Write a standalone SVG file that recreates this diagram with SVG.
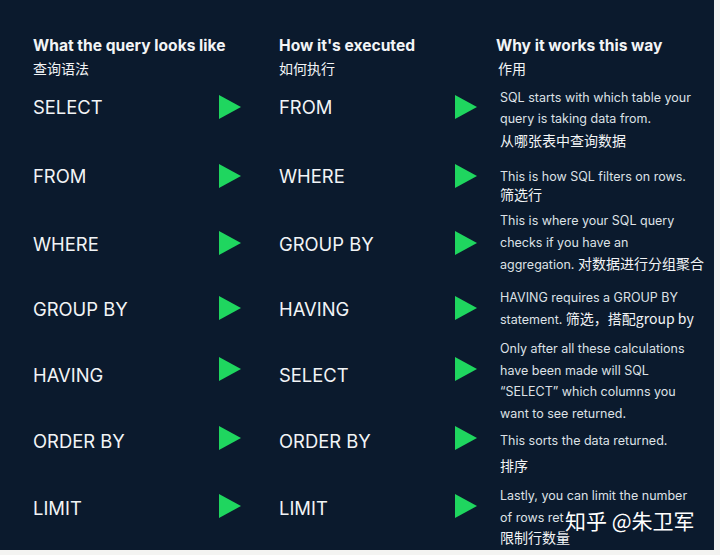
<svg xmlns="http://www.w3.org/2000/svg" width="720" height="555" viewBox="0 0 720 555">
<style>
.bg{fill:#0b1a2d}
.h{font-family:"Inter","Liberation Sans",sans-serif;font-weight:700;font-size:15.6px;fill:#f2f4f6}
.hc{font-family:"Noto Sans CJK SC",sans-serif;font-size:14px;fill:#f2f4f6}
.k{font-family:"Inter","Liberation Sans",sans-serif;font-size:18.4px;fill:#f2f4f6}
.d{font-family:"Inter","Liberation Sans",sans-serif;font-size:12.5px;fill:#dde1e6}
.dc{font-family:"Noto Sans CJK SC",sans-serif;font-size:14px;fill:#f2f4f6}
.arr{fill:#1fd65f}
.wm{font-family:"Noto Sans CJK SC",sans-serif;font-size:21px;fill:#ffffff;stroke:#0b1a2d;stroke-width:3;paint-order:stroke}
</style>
<defs>
<polygon id="tri" points="0,-12 22,0 0,12"/>
</defs>
<rect width="720" height="555" fill="#f4f4f2"/>
<rect class="bg" x="0" y="0" width="714" height="550"/>

<g id="headers">
<text class="h" x="33" y="51">What the query looks like</text>
<text class="hc" x="33" y="74">查询语法</text>
<text class="h" x="279" y="51">How it's executed</text>
<text class="hc" x="279" y="74">如何执行</text>
<text class="h" x="496" y="51">Why it works this way</text>
<text class="hc" x="498" y="74">作用</text>
</g>

<g id="col1">
<text class="k" x="33" y="114">SELECT</text>
<text class="k" x="33" y="183">FROM</text>
<text class="k" x="33" y="251">WHERE</text>
<text class="k" x="33" y="316">GROUP BY</text>
<text class="k" x="33" y="382">HAVING</text>
<text class="k" x="33" y="448">ORDER BY</text>
<text class="k" x="33" y="515">LIMIT</text>
</g>

<g id="col2">
<text class="k" x="279" y="114">FROM</text>
<text class="k" x="279" y="183">WHERE</text>
<text class="k" x="279" y="251">GROUP BY</text>
<text class="k" x="279" y="316">HAVING</text>
<text class="k" x="279" y="382">SELECT</text>
<text class="k" x="279" y="448">ORDER BY</text>
<text class="k" x="279" y="515">LIMIT</text>
</g>

<g id="connectors" class="arr">
<use href="#tri" x="219" y="107"/>
<use href="#tri" x="219" y="176"/>
<use href="#tri" x="219" y="243"/>
<use href="#tri" x="219" y="308"/>
<use href="#tri" x="219" y="369"/>
<use href="#tri" x="219" y="438"/>
<use href="#tri" x="219" y="506"/>
<use href="#tri" x="455" y="107"/>
<use href="#tri" x="455" y="176"/>
<use href="#tri" x="455" y="243"/>
<use href="#tri" x="455" y="308"/>
<use href="#tri" x="455" y="369"/>
<use href="#tri" x="455" y="438"/>
<use href="#tri" x="455" y="506"/>
</g>

<g id="col3">
<text class="d" x="500" y="102">SQL starts with which table your</text>
<text class="d" x="500" y="123">query is taking data from.</text>
<text class="dc" x="500" y="146">从哪张表中查询数据</text>
<text class="d" x="500" y="181">This is how SQL filters on rows.</text>
<text class="dc" x="500" y="200">筛选行</text>
<text class="d" x="500" y="225">This is where your SQL query</text>
<text class="d" x="500" y="247">checks if you have an</text>
<text class="d" x="500" y="269">aggregation. <tspan class="dc">对数据进行分组聚合</tspan></text>
<text class="d" x="500" y="302">HAVING requires a GROUP BY</text>
<text class="d" x="500" y="324">statement. <tspan class="dc" font-size="15">筛选，搭配group by</tspan></text>
<text class="d" x="500" y="353">Only after all these calculations</text>
<text class="d" x="500" y="375">have been made will SQL</text>
<text class="d" x="500" y="396">“SELECT” which columns you</text>
<text class="d" x="500" y="418">want to see returned.</text>
<text class="d" x="500" y="445">This sorts the data returned.</text>
<text class="dc" x="500" y="471">排序</text>
<text class="d" x="500" y="500">Lastly, you can limit the number</text>
<text class="d" x="500" y="522">of rows ret</text>
<text class="dc" x="500" y="543">限制行数量</text>
</g>

<g id="watermark">
<text class="wm" x="565" y="529">知乎 @朱卫军</text>
</g>
</svg>
